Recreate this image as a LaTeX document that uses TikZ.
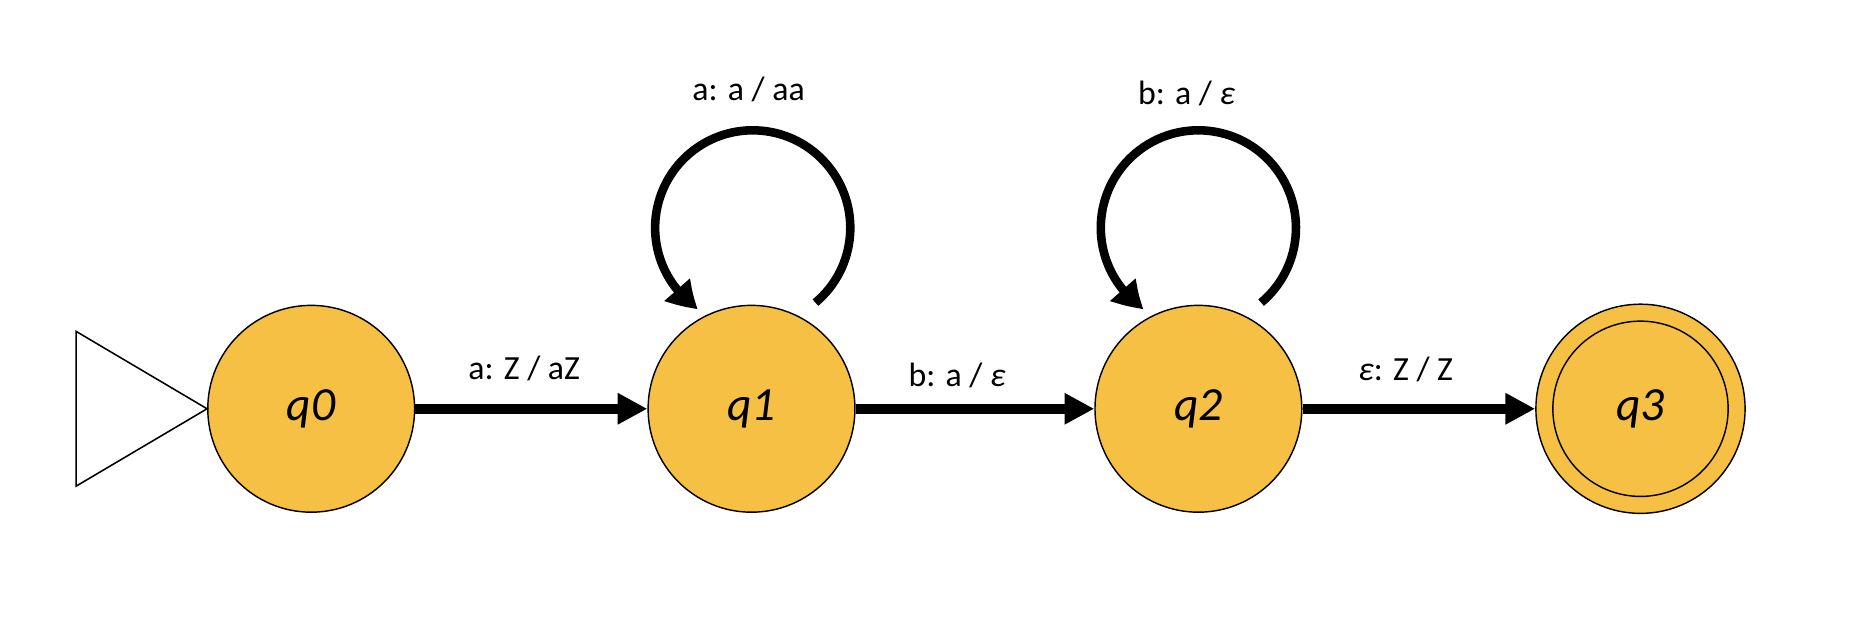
\documentclass[tikz,border=0pt]{standalone}
\usepackage{fontspec}
\setmainfont{Carlito}
\usetikzlibrary{arrows.meta,bending,calc}
\definecolor{stfill}{RGB}{246,192,69}
\begin{document}
\begin{tikzpicture}[x=0.5pt,y=0.5pt,
  state/.style={circle, draw, line width=0.6pt, fill=stfill, minimum size=86.9pt, inner sep=0pt, font=\fontsize{20}{24}\selectfont\itshape},
  arr/.style={line width=4.1pt, -{Triangle[length=12.5pt,width=12.4pt]}},
  looparr/.style={line width=3.6pt, -{Triangle[length=12pt,width=13.5pt,bend]}},
  lbl/.style={font=\fontsize{14.2}{17}\selectfont, anchor=base, inner sep=0pt}]
\useasboundingbox (0,0) rectangle (1568,529);
\node[state] (q0) at (261.5,185.5) {q0};
\node[state] (q1) at (631.5,185.5) {q1};
\node[state] (q2) at (1007,185.5) {q2};
\node[state, minimum size=87.9pt] (q3) at (1378.5,185.5) {q3};
\node[circle, draw, line width=0.6pt, minimum size=73.65pt, inner sep=0pt] (q3in) at (q3) {};
% start marker
\draw[line width=0.65pt] (q0.west) -- ++(-110,65) -- ++(0,-130) -- cycle;
% transitions
\draw[arr] (q0) -- node[lbl, xshift=-3pt, yshift=12.2pt] (t01) {a: Z / aZ} (q1);
\draw[arr] (q1) -- node[lbl, xshift=-7.5pt, yshift=9.35pt] (t12) {b: a / {\itshape ε}} (q2);
\draw[arr] (q2) -- node[lbl, xshift=-5.5pt, yshift=11.85pt] (t23) {{\itshape ε}: Z / Z} (q3);
% loops
\coordinate (c1) at ($(q1)+(1,152)$);
\coordinate (c2) at ($(q2)+(0,152)$);
\draw[looparr] ($(c1)+(-50:82)$) arc[start angle=-50, end angle=236, radius=82];
\draw[looparr] ($(c2)+(-50:82)$) arc[start angle=-50, end angle=236, radius=82];
\node[lbl] (l1) at ($(q1)+(-2.5,258.9)$) {a: a / aa};
\node[lbl] (l2) at ($(q2)+(-10,255.8)$) {b: a / {\itshape ε}};
\end{tikzpicture}
\end{document}
